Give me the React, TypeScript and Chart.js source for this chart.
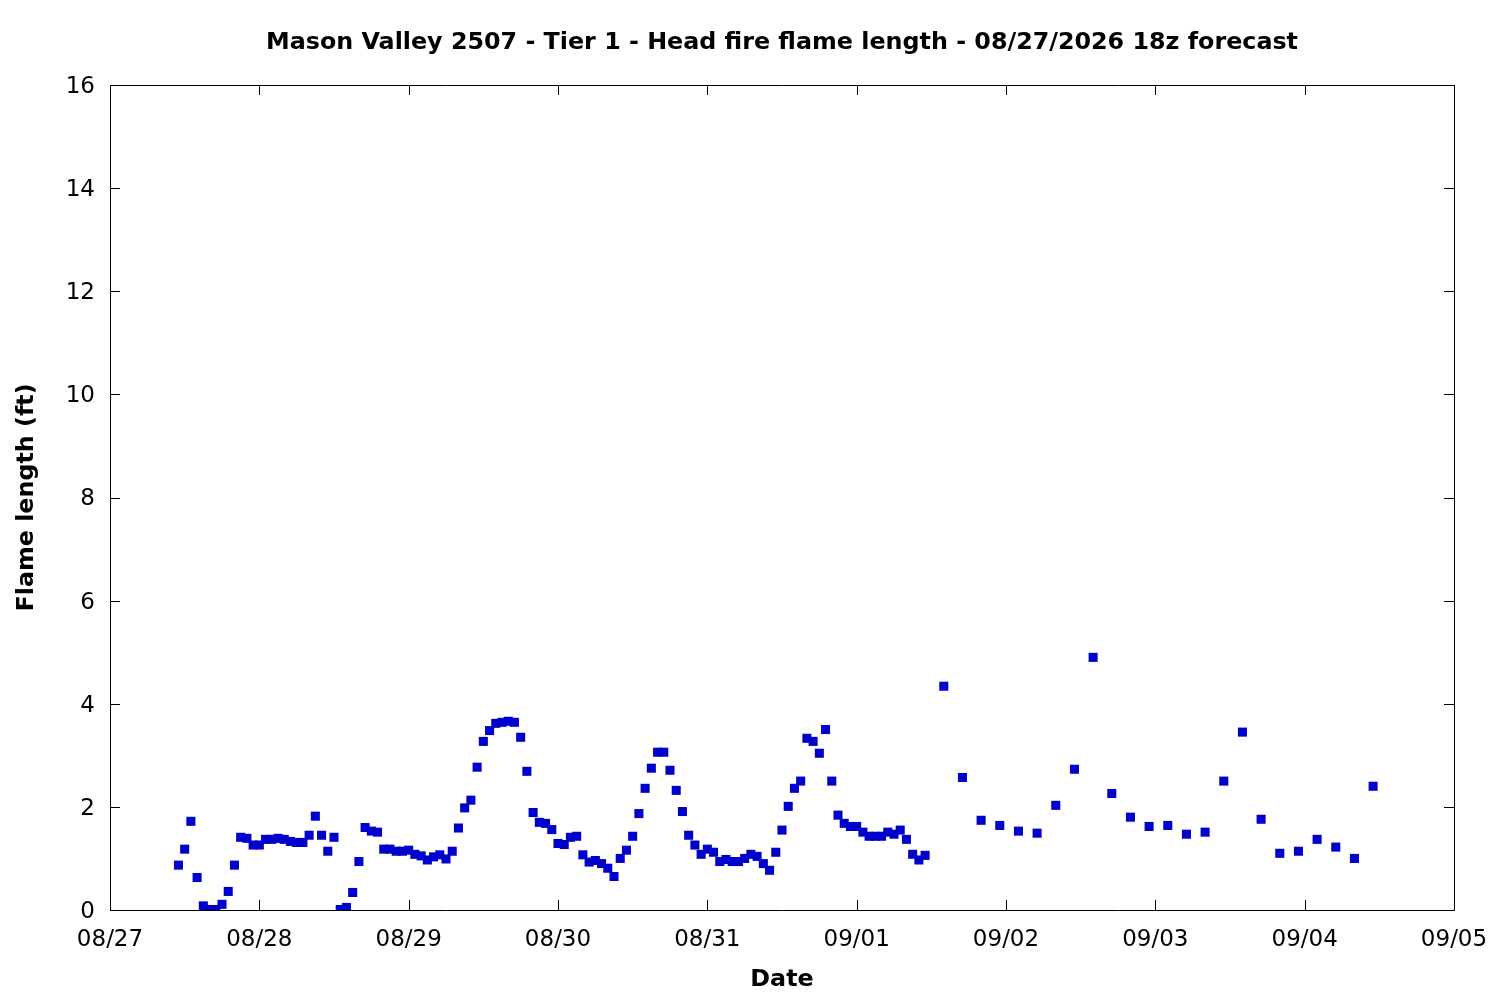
import { useEffect, useRef } from "react";
import { Chart, registerables } from "chart.js";

Chart.register(...registerables);

const chartTitle =
  "Mason Valley 2507 - Tier 1 - Head fire flame length - 08/27/2026 18z forecast";
const xTitle = "Date";
const yTitle = "Flame length (ft)";

// hours since 08/27 00z
const hourlyStart = 11;
const hourlyFlame = [
  0.87, 1.18, 1.72, 0.63, 0.08, 0.01, 0.01, 0.11, 0.36, 0.87, 1.41, 1.39, 1.26,
  1.26, 1.37, 1.37, 1.39, 1.37, 1.33, 1.31, 1.31, 1.45, 1.82, 1.45, 1.14, 1.41,
  0.01, 0.05, 0.34, 0.94, 1.6, 1.53, 1.51, 1.18, 1.18, 1.14, 1.14, 1.16, 1.08,
  1.05, 0.97, 1.03, 1.07, 0.99, 1.14, 1.59, 1.98, 2.13, 2.77, 3.27, 3.48, 3.62,
  3.64, 3.66, 3.64, 3.35, 2.69, 1.89, 1.7, 1.68, 1.56, 1.29, 1.27, 1.41, 1.43,
  1.07, 0.93, 0.96, 0.9, 0.81, 0.65, 1.0, 1.16, 1.43, 1.87, 2.36, 2.75, 3.06,
  3.06, 2.71, 2.32, 1.91, 1.45, 1.26, 1.08, 1.18, 1.12, 0.94, 0.98, 0.94, 0.94,
  1.0, 1.08, 1.04, 0.9, 0.77, 1.12, 1.55, 2.01, 2.36, 2.5, 3.33, 3.27, 3.04,
  3.5, 2.5, 1.84, 1.68, 1.62, 1.62, 1.51, 1.43, 1.43, 1.43, 1.51, 1.47, 1.55,
  1.37, 1.08, 0.97, 1.06,
];

const threeHourlyStart = 134;
const threeHourlyFlame = [
  4.34, 2.57, 1.74, 1.64, 1.53, 1.49, 2.03, 2.73, 4.9, 2.26, 1.8, 1.62, 1.64,
  1.47, 1.51, 2.5, 3.45, 1.76, 1.1, 1.14, 1.37, 1.22, 1.0, 2.4,
];

const dateLabels = [
  "08/27", "08/28", "08/29", "08/30", "08/31",
  "09/01", "09/02", "09/03", "09/04", "09/05",
];

const yTicks = [0, 2, 4, 6, 8, 10, 12, 14, 16];

export default function App() {
  const chartRef = useRef<HTMLCanvasElement>(null);
  const chartInstance = useRef<Chart | null>(null);

  useEffect(() => {
    if (!chartRef.current) return;
    if (chartInstance.current) chartInstance.current.destroy();

    const points = [
      ...hourlyFlame.map((v, i) => ({ x: hourlyStart + i, y: v })),
      ...threeHourlyFlame.map((v, i) => ({ x: threeHourlyStart + i * 3, y: v })),
    ];

    // gnuplot-style frame, inward ticks and titles
    const framePlugin = {
      id: "frame",
      afterDraw(chart: any) {
        const { ctx, chartArea: a, scales } = chart;
        ctx.save();
        ctx.strokeStyle = "#000";
        ctx.lineWidth = 1;
        ctx.beginPath();
        ctx.rect(a.left + 0.5, a.top + 0.5, a.right - a.left, a.bottom - a.top);
        const tl = 10;
        dateLabels.forEach((_, i) => {
          const x = Math.round(scales.x.getPixelForValue(i * 24)) + 0.5;
          ctx.moveTo(x, a.bottom);
          ctx.lineTo(x, a.bottom - tl);
          ctx.moveTo(x, a.top);
          ctx.lineTo(x, a.top + tl);
        });
        yTicks.forEach((t) => {
          const y = Math.round(scales.y.getPixelForValue(t)) + 0.5;
          ctx.moveTo(a.left, y);
          ctx.lineTo(a.left + tl, y);
          ctx.moveTo(a.right, y);
          ctx.lineTo(a.right - tl, y);
        });
        ctx.stroke();

        ctx.fillStyle = "#000";
        ctx.textAlign = "center";
        ctx.textBaseline = "middle";
        ctx.font = "bold 23.8px 'DejaVu Sans'";
        const cx = (a.left + a.right) / 2;
        ctx.fillText(chartTitle, cx, 43);
        ctx.fillText(xTitle, cx, 980);
        ctx.translate(27, (a.top + a.bottom) / 2);
        ctx.rotate(-Math.PI / 2);
        ctx.fillText(yTitle, 0, 0);
        ctx.restore();
      },
    };

    chartInstance.current = new Chart(chartRef.current, {
      type: "scatter",
      data: {
        datasets: [
          {
            label: "Flame length",
            data: points,
            backgroundColor: "#0000CD",
            borderWidth: 0,
            pointStyle: "rect",
            pointRadius: 6.4,
            showLine: false,
          },
        ],
      },
      options: {
        animation: false,
        responsive: false,
        devicePixelRatio: 1,
        layout: { padding: { top: 85, right: 46, left: 0, bottom: 0 } },
        plugins: {
          legend: { display: false },
          tooltip: { enabled: false },
          title: { display: false },
        },
        scales: {
          x: {
            type: "linear",
            min: 0,
            max: 216,
            afterFit: (s: any) => {
              s.height = 90;
              s.paddingLeft = 0;
              s.paddingRight = 0;
            },
            afterBuildTicks: (s: any) => {
              s.ticks = dateLabels.map((_, i) => ({ value: i * 24 }));
            },
            ticks: {
              callback: (v: any) => dateLabels[Math.round(Number(v) / 24)] ?? "",
              color: "#000",
              font: { family: "'DejaVu Sans'", size: 23 },
              padding: 16,
              maxRotation: 0,
              autoSkip: false,
            },
            grid: { display: false, drawTicks: false },
            border: { display: false },
          },
          y: {
            min: 0,
            max: 16,
            afterFit: (s: any) => {
              s.width = 110;
              s.paddingTop = 0;
              s.paddingBottom = 0;
            },
            afterBuildTicks: (s: any) => {
              s.ticks = yTicks.map((v) => ({ value: v }));
            },
            ticks: {
              color: "#000",
              font: { family: "'DejaVu Sans'", size: 23 },
              padding: 15,
              labelOffset: 2,
            },
            grid: { display: false, drawTicks: false },
            border: { display: false },
          },
        },
      },
      plugins: [framePlugin],
    });

    return () => {
      if (chartInstance.current) {
        chartInstance.current.destroy();
        chartInstance.current = null;
      }
    };
  }, []);

  return (
    <div style={{ position: "absolute", left: 0, top: 0, width: 1500, height: 1000, background: "#fff" }}>
      <canvas ref={chartRef} width={1500} height={1000}></canvas>
    </div>
  );
}
